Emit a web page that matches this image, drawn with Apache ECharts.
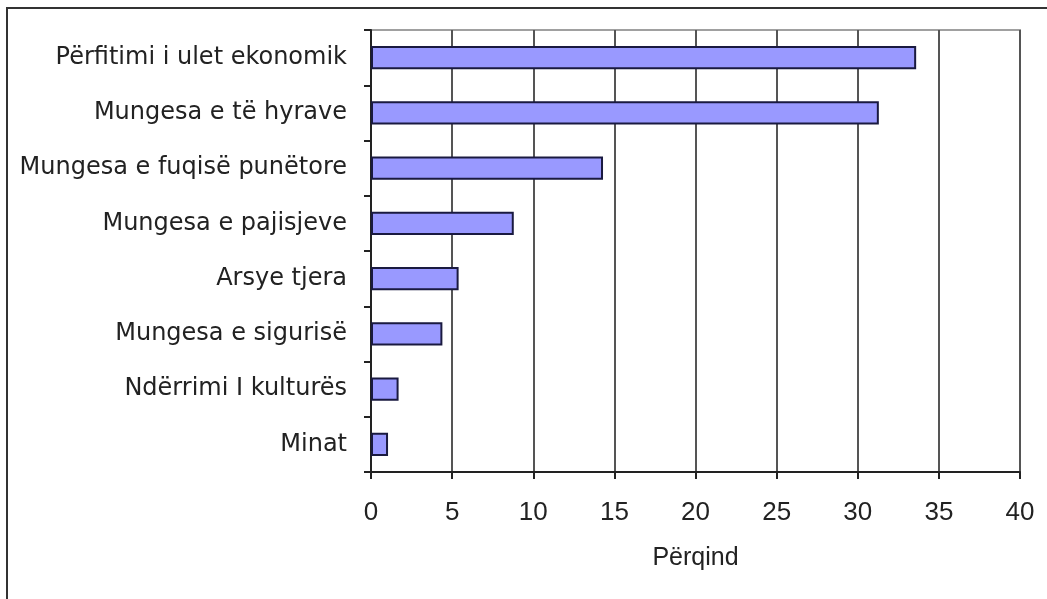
<!DOCTYPE html>
<html>
<head>
<meta charset="utf-8">
<script src="https://cdn.jsdelivr.net/npm/echarts@6/dist/echarts.min.js"></script>
<style>
  html, body { margin: 0; padding: 0; background: #fff; }
  #frame {
    position: absolute; left: 6px; top: 7px; right: 0; bottom: 0;
    border-left: 2px solid #333; border-top: 2px solid #333;
  }
  #chart { position: absolute; left: 0; top: 0; width: 1047px; height: 599px; }
</style>
</head>
<body>
<div id="frame"></div>
<div id="chart"></div>
<script>
// share of respondents by reason (percent)
const categories = [
  'Përfitimi i ulet ekonomik',
  'Mungesa e të hyrave',
  'Mungesa e fuqisë punëtore',
  'Mungesa e pajisjeve',
  'Arsye tjera',
  'Mungesa e sigurisë',
  'Ndërrimi I kulturës',
  'Minat'
];
const values = [33.6, 31.3, 14.3, 8.8, 5.4, 4.4, 1.7, 1.05];
const axisTitle = 'Përqind';

const chart = echarts.init(document.getElementById('chart'));
const wideFont = '"DejaVu Sans", Arial, sans-serif';
const narrowFont = '"Liberation Sans Narrow", "Arial Narrow", "Liberation Sans", sans-serif';

chart.setOption({
  animation: false,
  grid: {
    left: 371, right: 27, top: 30, bottom: 127,
    show: true, borderColor: '#a0a0a0', borderWidth: 2, backgroundColor: 'transparent'
  },
  xAxis: {
    type: 'value',
    min: 0, max: 40, interval: 5,
    name: axisTitle,
    nameLocation: 'middle',
    nameGap: 74,
    nameTextStyle: { color: '#222', fontSize: 25, fontFamily: narrowFont },
    axisLine: { show: true, lineStyle: { color: '#222', width: 2 } },
    axisTick: { show: true, length: 7, lineStyle: { color: '#222', width: 2 } },
    axisLabel: { color: '#222', fontSize: 26, fontFamily: narrowFont, margin: 28 },
    splitLine: { show: true, lineStyle: { color: '#555', width: 2 } }
  },
  yAxis: {
    type: 'category',
    inverse: true,
    data: categories,
    axisLine: { show: true, lineStyle: { color: '#222', width: 2 } },
    axisTick: { show: true, length: 7, lineStyle: { color: '#222', width: 2 } },
    axisLabel: { color: '#222', fontSize: 24, fontFamily: wideFont, margin: 24 },
    splitLine: { show: false }
  },
  series: [{
    type: 'bar',
    data: values,
    barCategoryGap: '58%',
    itemStyle: { color: '#9999ff', borderColor: '#1a1a40', borderWidth: 2 }
  }]
});
</script>
</body>
</html>
